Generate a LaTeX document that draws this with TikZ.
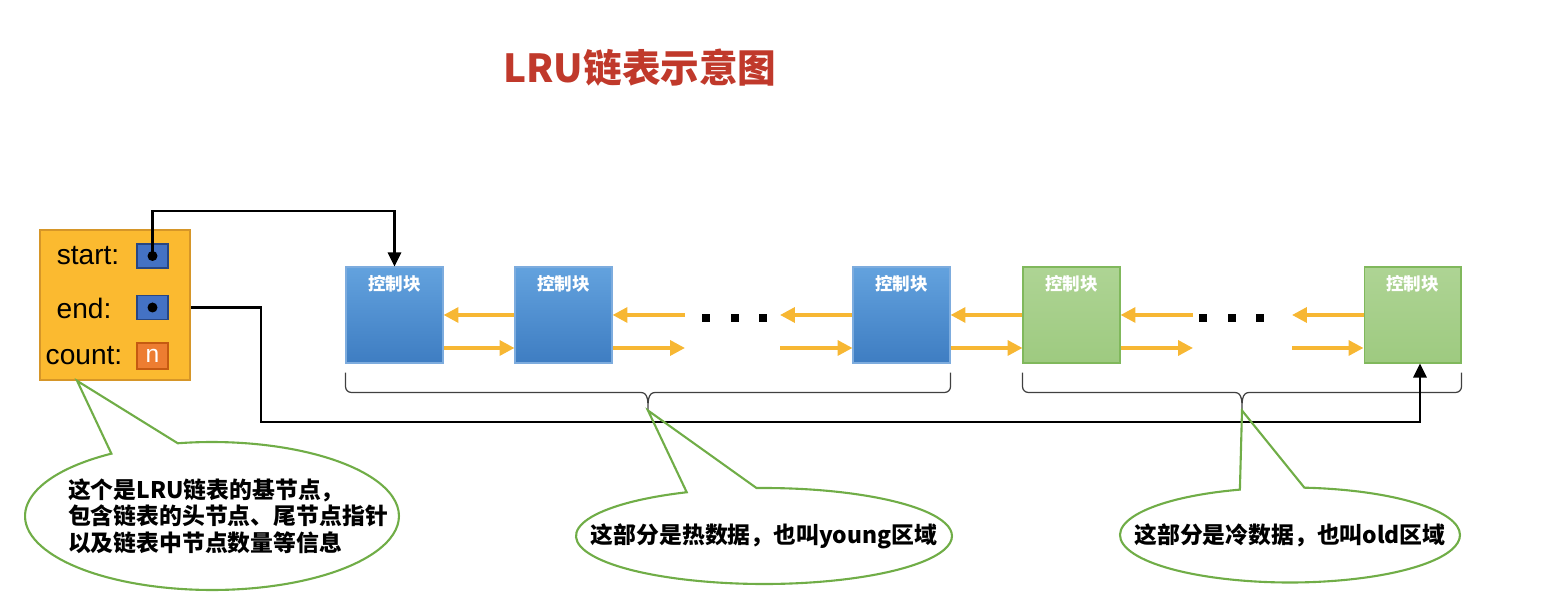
\documentclass[tikz,border=0pt]{standalone}
\usepackage{fontspec}
\setmainfont{Liberation Sans}
\newfontfamily\cjk{Noto Sans CJK SC}
\usetikzlibrary{positioning,arrows.meta,calc,shapes.callouts}
\definecolor{TitleRed}{RGB}{192,57,43}
\definecolor{HeadFill}{RGB}{251,186,48}
\definecolor{HeadEdge}{RGB}{214,150,40}
\definecolor{SqBlue}{RGB}{68,114,196}
\definecolor{SqEdge}{RGB}{40,70,130}
\definecolor{CountOrange}{RGB}{237,125,49}
\definecolor{CountEdge}{RGB}{197,90,17}
\definecolor{BlueTop}{RGB}{99,162,222}
\definecolor{BlueBot}{RGB}{62,125,194}
\definecolor{BlueEdge}{RGB}{125,172,222}
\definecolor{GreenTop}{RGB}{174,212,148}
\definecolor{GreenBot}{RGB}{158,202,128}
\definecolor{GreenEdge}{RGB}{128,184,92}
\definecolor{ArrowGold}{RGB}{247,183,51}
\definecolor{CallGreen}{RGB}{112,173,71}

\begin{document}
\begin{tikzpicture}[
    x=0.02cm, y=0.02cm,
    title/.style={
      text=TitleRed,
      font=\cjk\bfseries\fontsize{22}{26}\selectfont
    },
    head/.style={
      rectangle,
      draw=HeadEdge,
      fill=HeadFill,
      line width=1pt,
      minimum size=3cm
    },
    ptrsq/.style={
      rectangle,
      draw=SqEdge,
      fill=SqBlue,
      line width=0.8pt,
      minimum width=0.62cm,
      minimum height=0.48cm,
      inner sep=0pt
    },
    countsq/.style={
      ptrsq,
      draw=CountEdge,
      fill=CountOrange,
      minimum height=0.52cm,
      text=white,
      font=\fontsize{14}{14}\selectfont
    },
    pindot/.style={circle, fill=black, inner sep=0pt, minimum size=0.2cm},
    field/.style={font=\fontsize{16}{18}\selectfont},
    block/.style={
      rectangle,
      draw=BlueEdge,
      top color=BlueTop,
      bottom color=BlueBot,
      line width=0.6pt,
      minimum width=1.94cm,
      minimum height=1.92cm,
      label={[blocktext]north:控制块}
    },
    oldblock/.style={
      block,
      draw=GreenEdge,
      top color=GreenTop,
      bottom color=GreenBot
    },
    blocktext/.style={
      anchor=north,
      yshift=-0.05cm,
      text=white,
      font=\cjk\bfseries\fontsize{10}{12}\selectfont
    },
    link/.style={
      -{Triangle[length=8.5pt, width=8.5pt]},
      draw=ArrowGold,
      line width=2pt
    },
    ptr/.style={
      -{Triangle[length=8pt, width=7.5pt]},
      draw=black,
      line width=1.4pt
    },
    dotsq/.style={fill=black, inner sep=0pt, minimum size=0.16cm},
    span/.style={draw=black!75, line width=0.7pt},
    bubble/.style={
      ellipse callout,
      draw=CallGreen,
      line width=1.2pt,
      callout pointer arc=22
    },
    calltext/.style={
      align=left,
      font=\cjk\bfseries\fontsize{13}{15}\selectfont
    }
  ]
    \useasboundingbox (0,0) rectangle (1554,615);

    \node[title] (ttl) at (640,547) {LRU链表示意图};

    % base node
    \node[head] (head) at (115,310) {};
    \node[ptrsq] (ssq) at (152.5,359) {};
    \node[ptrsq] (esq) at (152.5,307.5) {};
    \node[countsq] (csq) at (152.5,259) {n};
    \node[pindot] (sdot) at (ssq) {};
    \node[pindot] (edot) at (esq) {};
    \node[field] (lstart) at (88,359) {start:};
    \node[field] (lend) at (84,307) {end:};
    \node[field] (lcount) at (84,259) {count:};

    % control blocks
    \node[block] (b1) at (394.5,300) {};
    \node[block] (b2) at (563.5,300) {};
    \node[block] (b3) at (901.5,300) {};
    \node[oldblock] (g1) at (1071.5,300) {};
    \node[oldblock] (g2) at (1412.5,300) {};

    \coordinate (d1a) at (685,300);
    \coordinate (d1b) at (780,300);
    \coordinate (d2a) at (1193,300);
    \coordinate (d2b) at (1292,300);

    \foreach \a/\b in {b1.east/b2.west, b3.east/g1.west, b2.east/d1a,
                       d1b/b3.west, g1.east/d2a, d2b/g2.west}{
      \draw[link] (\b) -- (\a);
      \draw[link] ([yshift=-0.66cm]\a) -- ([yshift=-0.66cm]\b);
    }

    \foreach \x [count=\i] in {706,735,763}
      \node[dotsq] (p\i) at (\x,297) {};
    \foreach \x [count=\i] in {1203,1232,1260}
      \node[dotsq] (q\i) at (\x,297) {};

    % young / old spans
    \coordinate (ya) at ($(b1.south west)+(0,-9)$);
    \coordinate (yb) at ($(b3.south east)+(0,-9)$);
    \coordinate (oa) at ($(g1.south west)+(0,-9)$);
    \coordinate (ob) at ($(g2.south east)+(0,-9)$);
    \coordinate (ytip) at ($(ya)!0.5!(yb)+(0,-38)$);
    \coordinate (otip) at ($(oa)!0.5!(ob)+(0,-38)$);
    \foreach \p/\q/\t in {ya/yb/ytip, oa/ob/otip}
      \draw[span] (\p) -- ++(0,-14) to[out=-90,in=180] ++(6,-6)
        -- ($(\t)+(-7,18)$) to[out=0,in=90] (\t)
        to[out=90,in=180] ++(7,18) -- ($(\q)+(-6,-20)$)
        to[out=0,in=-90] ++(6,6) -- (\q);

    % head and tail pointers
    \draw[ptr] (sdot.center) -- ++(0,45) -| (b1.north);
    \draw[ptr] (head.east |- esq) -- ++(70,0) -- ++(0,-114.5)
      -| ($(g2.south)+(7.5,0)$);

    % notes
    \coordinate (htip) at ($(head.south west)+(38,0)$);
    \node[bubble, minimum width=7.48cm, minimum height=2.96cm,
          callout absolute pointer={(htip)},
          label={[calltext, xshift=0.32cm]center:{这个是LRU链表的基节点，\\包含链表的头节点、尾节点指针\\以及链表中节点数量等信息}}]
          (n1) at (212,99) {};
    \node[bubble, minimum width=7.52cm, minimum height=1.92cm,
          callout absolute pointer={(ytip)},
          label={[calltext]center:这部分是热数据，也叫young区域}]
          (n2) at (764,79) {};
    \node[bubble, minimum width=6.8cm, minimum height=1.9cm,
          callout absolute pointer={(otip)},
          label={[calltext]center:这部分是冷数据，也叫old区域}]
          (n3) at (1290,80) {};
\end{tikzpicture}
\end{document}
